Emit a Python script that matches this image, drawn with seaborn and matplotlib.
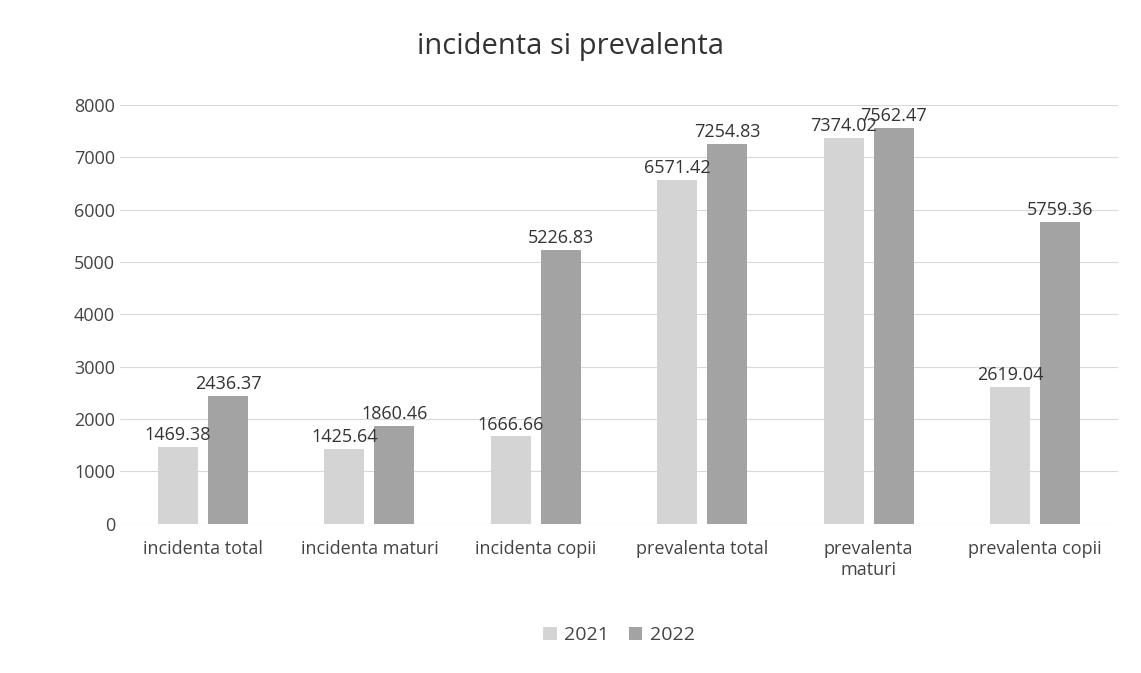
import pandas as pd
import seaborn as sns
import matplotlib.pyplot as plt

# values
categories = ['incidenta total', 'incidenta maturi', 'incidenta copii',
              'prevalenta total', 'prevalenta\nmaturi', 'prevalenta copii']
years = ['2021', '2022']
values_2021 = [1469.38, 1425.64, 1666.66, 6571.42, 7374.02, 2619.04]
values_2022 = [2436.37, 1860.46, 5226.83, 7254.83, 7562.47, 5759.36]

df = pd.DataFrame({
    'categorie': categories * 2,
    'an': [years[0]] * len(categories) + [years[1]] * len(categories),
    'valoare': values_2021 + values_2022,
})

sns.set_theme(style='white')
plt.rcParams['font.family'] = ['Open Sans', 'DejaVu Sans']

fig = plt.figure(figsize=(11.41, 6.73), dpi=100)
ax = fig.add_axes([0.105, 0.222, 0.875, 0.622])

sns.barplot(data=df, x='categorie', y='valoare', hue='an',
            palette=['#d4d4d4', '#a3a3a3'], width=0.6, gap=0.2,
            linewidth=0, edgecolor='none', ax=ax, legend=True)

for cont in ax.containers:
    ax.bar_label(cont, fmt='%.2f', padding=2, fontsize=13, color='#333333')

ax.set_ylim(0, 8000)
ax.set_yticks(range(0, 8001, 1000))
ax.yaxis.grid(True, color='#d9d9d9', linewidth=0.8)
ax.set_axisbelow(True)
ax.set_xlabel('')
ax.set_ylabel('')
ax.tick_params(axis='both', length=0, labelsize=13, colors='#444444')
ax.tick_params(axis='x', pad=12)
sns.despine(ax=ax, left=True, bottom=True)

fig.suptitle('incidenta si prevalenta', y=0.952, fontsize=21, color='#333333')

ax.legend(loc='lower center', bbox_to_anchor=(0.5, -0.33), ncol=2,
          frameon=False, fontsize=14, handlelength=0.7, handleheight=0.7,
          columnspacing=1.0, handletextpad=0.4, labelcolor='#444444')

fig.savefig('out.png', dpi=100)
